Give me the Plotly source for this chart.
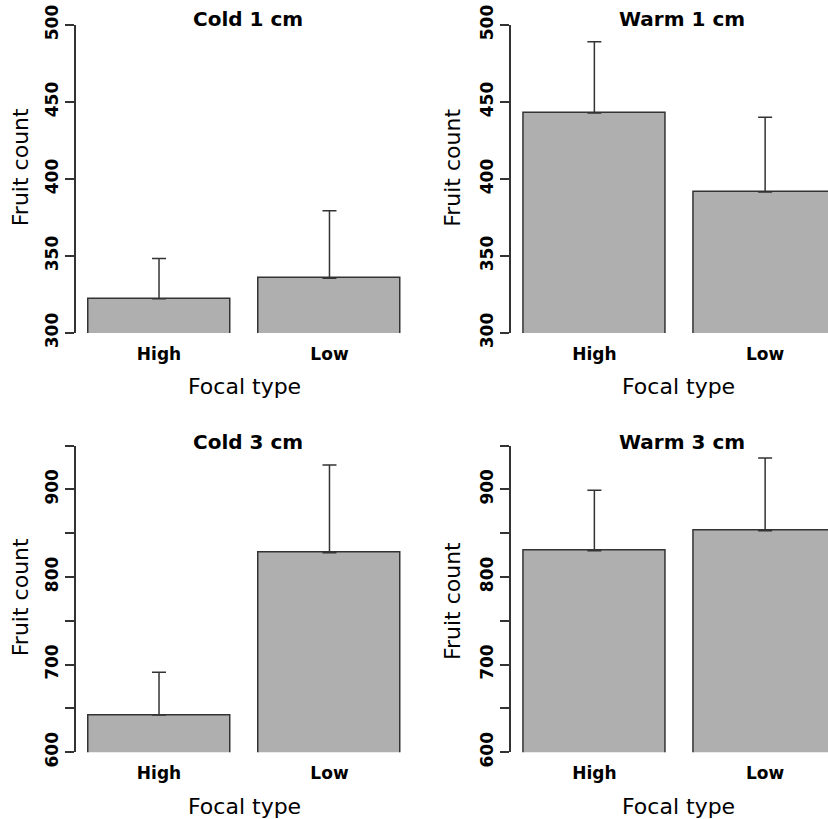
import plotly.graph_objects as go

W, H = 828, 819

categories = ["High", "Low"]
panel_titles = ["Cold 1 cm", "Warm 1 cm", "Cold 3 cm", "Warm 3 cm"]
cold_1cm = [322.3, 335.6]
cold_1cm_err = [26.0, 43.8]
warm_1cm = [442.9, 391.5]
warm_1cm_err = [46.2, 48.6]
cold_3cm = [642.5, 827.7]
cold_3cm_err = [48.7, 100.0]
warm_3cm = [830.0, 852.8]
warm_3cm_err = [68.9, 82.9]
bar_positions = [0.7, 1.9]

top_ticks = [300, 350, 400, 450, 500]
top_ticktext = ["300", "350", "400", "450", "500"]
bot_ticks = [600, 650, 700, 750, 800, 850, 900, 950]
bot_ticktext = ["600", "", "700", "", "800", "", "900", ""]

values = [cold_1cm, warm_1cm, cold_3cm, warm_3cm]
errors = [cold_1cm_err, warm_1cm_err, cold_3cm_err, warm_3cm_err]

BAR = "#AFAFAF"
LINE = "#333333"
FONT = "DejaVu Sans"

def px_x(p):
    return p / W

def px_y(p):
    return 1 - p / H

# panel geometry (pixels)
x_doms = [(75.5, 413.0), (510.7, 828.0), (75.5, 413.0), (510.7, 828.0)]
x_ranges = [[0.112, 2.488], [0.112, 0.112 + (828 - 510.7) / 142.3],
            [0.112, 2.488], [0.112, 0.112 + (828 - 510.7) / 142.3]]
y_doms = [(333.0, 25.0), (333.0, 25.0), (752.3, 445.5), (752.3, 445.5)]
y_ranges = [[300, 500], [300, 500], [600, 950], [600, 950]]

fig = go.Figure()
layout = {}
for i in range(4):
    sfx = "" if i == 0 else str(i + 1)
    fig.add_trace(go.Bar(
        x=bar_positions, y=values[i], width=1.0,
        marker=dict(color=BAR, line=dict(color=LINE, width=1.5)),
        error_y=dict(type="data", symmetric=False, array=errors[i],
                     arrayminus=[0, 0], color=LINE, thickness=1.5, width=7),
        xaxis="x" + sfx, yaxis="y" + sfx, showlegend=False,
        hoverinfo="skip",
    ))
    layout["xaxis" + sfx] = dict(
        domain=[px_x(x_doms[i][0]), px_x(x_doms[i][1])],
        range=x_ranges[i], anchor="y" + sfx, automargin=False,
        tickmode="array", tickvals=bar_positions, ticktext=categories,
        ticks="", showline=False, showgrid=False, zeroline=False,
        tickfont=dict(family=FONT, size=17, color="black", weight="bold"),
        ticklabelstandoff=9,
    )
    top = i < 2
    layout["yaxis" + sfx] = dict(
        domain=[px_y(y_doms[i][0]), px_y(y_doms[i][1])],
        range=y_ranges[i], anchor="x" + sfx, automargin=False,
        tickmode="array",
        tickvals=top_ticks if top else bot_ticks,
        ticktext=top_ticktext if top else bot_ticktext,
        ticks="outside", ticklen=9, tickwidth=1.5, tickcolor=LINE,
        showline=True, linecolor=LINE, linewidth=1.5,
        showgrid=False, zeroline=False, tickangle=-90,
        tickfont=dict(family=FONT, size=17, color="black", weight="bold"),
    )

annotations = []
title_pos = [(247.5, 19.3), (681.8, 19.3), (247.5, 442.3), (681.8, 442.3)]
xlab_pos = [(245, 386.7), (678.5, 386.7), (245, 806.7), (678.5, 806.7)]
ylab_pos = [(20.7, 167.5), (452.3, 167.5), (20.7, 597.5), (452.3, 600.8)]
for i in range(4):
    annotations.append(dict(
        text=panel_titles[i], xref="paper", yref="paper",
        x=px_x(title_pos[i][0]), y=px_y(title_pos[i][1]),
        xanchor="center", yanchor="middle", showarrow=False,
        font=dict(family=FONT, size=20, color="black", weight="bold")))
    annotations.append(dict(
        text="Focal type", xref="paper", yref="paper",
        x=px_x(xlab_pos[i][0]), y=px_y(xlab_pos[i][1]),
        xanchor="center", yanchor="middle", showarrow=False,
        font=dict(family=FONT, size=22, color="black")))
    annotations.append(dict(
        text="Fruit count", xref="paper", yref="paper",
        x=px_x(ylab_pos[i][0]), y=px_y(ylab_pos[i][1]),
        xanchor="center", yanchor="middle", showarrow=False, textangle=-90,
        font=dict(family=FONT, size=22, color="black")))

fig.update_layout(
    width=W, height=H, margin=dict(l=0, r=0, t=0, b=0, autoexpand=False),
    paper_bgcolor="white", plot_bgcolor="white",
    annotations=annotations, bargap=0,
    **layout,
)
fig.write_html("out.html")
